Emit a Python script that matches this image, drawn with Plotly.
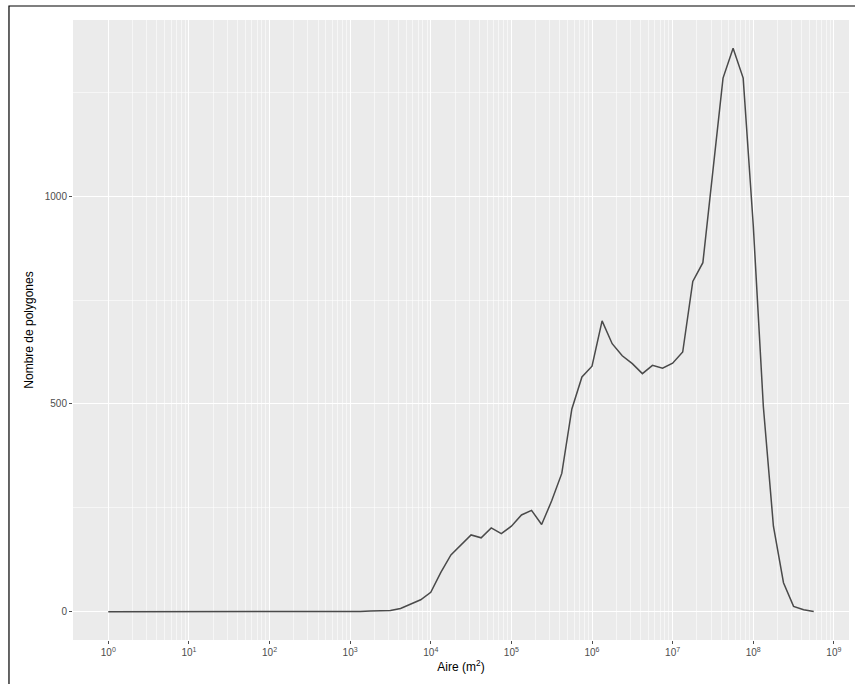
import plotly.graph_objects as go

# Bin centres (log10 of area, m²) and polygon counts
bin_log10_area = [
    0.000, 0.125, 0.250, 0.375, 0.500, 0.625, 0.750, 0.875,
    1.000, 1.125, 1.250, 1.375, 1.500, 1.625, 1.750, 1.875,
    2.000, 2.125, 2.250, 2.375, 2.500, 2.625, 2.750, 2.875,
    3.000, 3.125, 3.250, 3.375, 3.500, 3.625, 3.750, 3.875,
    4.000, 4.125, 4.250, 4.375, 4.500, 4.625, 4.750, 4.875,
    5.000, 5.125, 5.250, 5.375, 5.500, 5.625, 5.750, 5.875,
    6.000, 6.125, 6.250, 6.375, 6.500, 6.625, 6.750, 6.875,
    7.000, 7.125, 7.250, 7.375, 7.500, 7.625, 7.750, 7.875,
    8.000, 8.125, 8.250, 8.375, 8.500, 8.625, 8.750,
]
counts = [
    0, 0, 0, 0, 0, 0, 0, 0,
    0, 0, 0, 0, 0, 0, 0, 0,
    0, 0, 0, 0, 0, 0, 0, 0,
    1, 1, 2, 2, 3, 8, 18, 29,
    47, 95, 137, 160, 185, 178, 202, 188,
    206, 233, 244, 210, 267, 333, 488, 565,
    591, 700, 645, 616, 597, 573, 593, 586,
    598, 625, 795, 840, 1060, 1284, 1356, 1284,
    930, 494, 206, 70, 13, 5, 1,
]
areas = [10 ** e for e in bin_log10_area]

x_tick_vals = [10 ** k for k in range(0, 10)]
x_tick_text = [f"10<sup>{k}</sup>" for k in range(0, 10)]
x_minor_vals = [m * 10 ** k for k in range(0, 9) for m in range(2, 10)]
y_tick_vals = [0, 500, 1000]
y_tick_text = ["0", "500", "1000"]
y_minor_vals = [250, 750, 1250]

FONT = "Liberation Sans, Arial, Helvetica, sans-serif"

fig = go.Figure()
fig.add_trace(go.Scatter(
    x=areas, y=counts, mode="lines",
    line=dict(color="#4a4a4a", width=1.5),
    showlegend=False, hoverinfo="x+y",
))

ymax = max(counts)
xmin, xmax = min(bin_log10_area), max(bin_log10_area)
xpad = 0.05 * (xmax - xmin)

fig.update_layout(
    width=855, height=684,
    margin=dict(l=73, r=6, t=20, b=44),
    paper_bgcolor="white",
    plot_bgcolor="#EBEBEB",
    font=dict(family=FONT, size=10, color="#4D4D4D"),
    xaxis=dict(
        type="log", automargin=False,
        range=[xmin - xpad, xmax + xpad],
        tickmode="array", tickvals=x_tick_vals, ticktext=x_tick_text,
        ticks="outside", ticklen=3, tickwidth=1, tickcolor="#4D4D4D",
        showgrid=True, gridcolor="white", gridwidth=1.2,
        minor=dict(tickmode="array", tickvals=x_minor_vals, showgrid=True,
                   gridcolor="rgba(255,255,255,0.55)", gridwidth=0.6, ticks=""),
        zeroline=False, showline=False,
        tickfont=dict(size=10, color="#4D4D4D"),
        title=dict(text="Aire (m<sup>2</sup>)", standoff=4,
                   font=dict(size=12, color="black")),
    ),
    yaxis=dict(
        automargin=False,
        range=[-0.05 * ymax, 1.05 * ymax],
        tickmode="array", tickvals=y_tick_vals, ticktext=y_tick_text,
        ticks="outside", ticklen=3, tickwidth=1, tickcolor="#4D4D4D",
        showgrid=True, gridcolor="white", gridwidth=1.2,
        minor=dict(tickmode="array", tickvals=y_minor_vals, showgrid=True,
                   gridcolor="rgba(255,255,255,0.55)", gridwidth=0.6, ticks=""),
        zeroline=False, showline=False,
        tickfont=dict(size=10, color="#4D4D4D"),
        title=dict(text="Nombre de polygones", standoff=8,
                   font=dict(size=12, color="black")),
    ),
    shapes=[dict(
        type="rect", xref="paper", yref="paper",
        x0=-0.0825, x1=1.05, y0=-0.12, y1=1.0226,
        line=dict(color="black", width=1.2), fillcolor="rgba(0,0,0,0)",
        layer="above",
    )],
)

fig.write_html(
    "out.html",
    config={"displayModeBar": False},
    post_script="document.body.style.margin='0';document.body.style.overflow='hidden';",
)
